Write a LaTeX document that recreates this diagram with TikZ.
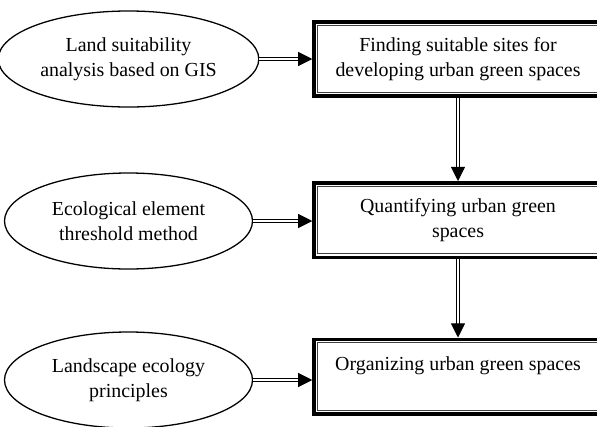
\documentclass[tikz,border=0pt]{standalone}
\usepackage{fontspec}
\setmainfont{Liberation Serif}
\usetikzlibrary{shapes.geometric,arrows.meta}

\begin{document}
\begin{tikzpicture}[
      method/.style={
        draw,
        ellipse,
        line width=1.1pt,
        minimum width=7.44cm,
        minimum height=2.88cm,
        align=center,
        font=\fontsize{17}{21}\selectfont
      },
      task/.style={
        draw,
        rectangle,
        line width=3pt,
        minimum width=8.64cm,
        minimum height=2.235cm,
        align=center,
        font=\fontsize{17}{21}\selectfont
      },
      flow/.style={
        double,
        double distance=1.6pt,
        line width=0.7pt,
        -{Triangle[length=12pt,width=12pt]}
      }
      ]
        \useasboundingbox (0,0) rectangle (17.91,-12.78);

        \node[method] (m1) at (3.855,-1.77) {Land suitability\\analysis based on GIS};
        \node[method] (m2) at (3.855,-6.63) {Ecological element\\threshold method};
        \node[method] (m3) at (3.855,-11.4) {Landscape ecology\\principles};

        \node[task] (t1) at (13.74,-1.77) {Finding suitable sites for\\developing urban green spaces};
        \node[task] (t2) at (13.74,-6.6) {Quantifying urban green\\spaces};
        \node[task, text depth=0.8cm] (t3) at (13.74,-11.295) {Organizing urban green spaces};

        % inner frame of the boxes
        \foreach \b in {t1,t2,t3}
          \draw[line width=0.7pt, black!75] ([shift={(4.4pt,-4.4pt)}]\b.north west) rectangle ([shift={(-4.4pt,4.4pt)}]\b.south east);

        \draw[flow] (m1.east) -- (m1.east -| t1.west);
        \draw[flow] (m2.east) -- (m2.east -| t2.west);
        \draw[flow] (m3.east) -- (m3.east -| t3.west);

        \draw[flow] (t1.south) -- (t2.north);
        \draw[flow] (t2.south) -- (t3.north);
    \end{tikzpicture}
\end{document}
